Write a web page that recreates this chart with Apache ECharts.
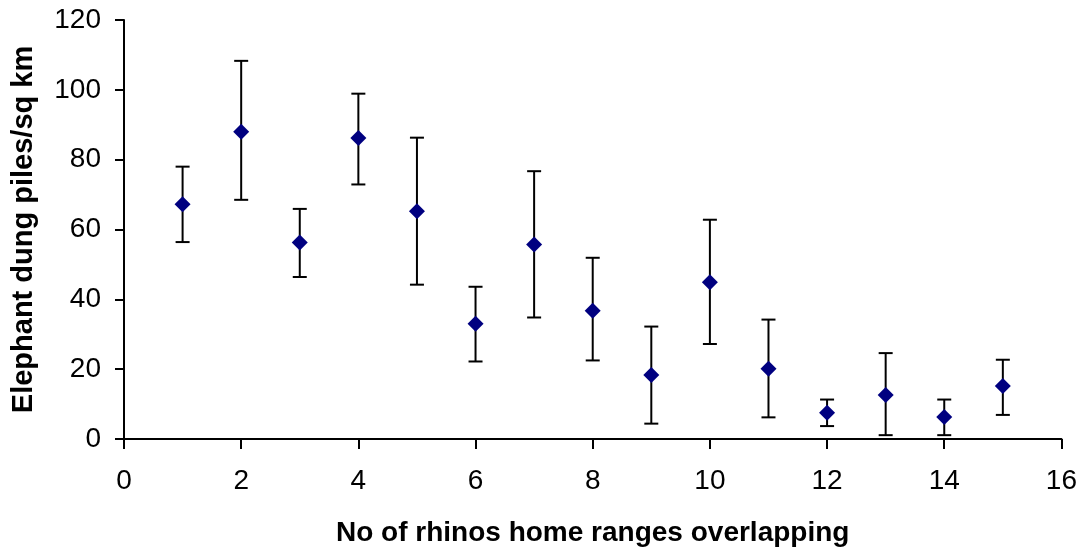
<!DOCTYPE html>
<html><head><meta charset="utf-8">
<script src="https://cdn.jsdelivr.net/npm/echarts@6/dist/echarts.min.js"></script>
<style>html,body{margin:0;padding:0;background:#fff}#c{width:1080px;height:552px}</style>
</head><body><div id="c"></div>
<script>
const xs = [1,2,3,4,5,6,7,8,9,10,11,12,13,14,15];
const means = [67.2,88.0,56.3,86.2,65.2,33.0,55.7,36.7,18.3,44.9,20.1,7.5,12.6,6.3,15.2];
const upper = [78.0,108.3,65.9,98.9,86.3,43.6,76.7,51.9,32.2,62.8,34.2,11.3,24.6,11.3,22.7];
const lower = [56.4,68.5,46.4,72.9,44.2,22.2,34.8,22.5,4.4,27.2,6.2,3.7,1.1,1.1,6.9];
const xTitle = 'No of rhinos home ranges overlapping';
const yTitle = 'Elephant dung piles/sq km';

const errData = xs.map((x,i)=>[x, lower[i], upper[i]]);
const ptData = xs.map((x,i)=>[x, means[i]]);
const font = '"Liberation Sans", Arial, sans-serif';
const chart = echarts.init(document.getElementById('c'));
chart.setOption({
  animation:false,
  backgroundColor:'#fff',
  grid:{left:124,right:18,top:20,bottom:111},
  xAxis:{type:'value',min:0,max:16,interval:2,
    name:xTitle,nameLocation:'middle',nameGap:80,
    nameTextStyle:{fontFamily:font,fontSize:28,fontWeight:'bold',color:'#000'},
    axisLine:{lineStyle:{color:'#000',width:2}},
    axisTick:{inside:false,length:10,lineStyle:{color:'#000',width:2}},
    axisLabel:{fontFamily:font,fontSize:28,color:'#000',margin:28},
    splitLine:{show:false}},
  yAxis:{type:'value',min:0,max:120,interval:20,
    name:yTitle,nameLocation:'middle',nameGap:86,
    nameTextStyle:{fontFamily:font,fontSize:29,fontWeight:'bold',color:'#000'},
    axisLine:{show:true,lineStyle:{color:'#000',width:2}},
    axisTick:{show:true,length:9,lineStyle:{color:'#000',width:2}},
    axisLabel:{fontFamily:font,fontSize:28,color:'#000',margin:23},
    splitLine:{show:false}},
  series:[
    {type:'custom',data:errData,z:2,
     renderItem:function(params,api){
       const x=api.value(0);
       const lo=api.coord([x,api.value(1)]);
       const hi=api.coord([x,api.value(2)]);
       const hw=7;
       const st={stroke:'#000',lineWidth:2};
       return {type:'group',children:[
         {type:'line',shape:{x1:lo[0],y1:lo[1],x2:hi[0],y2:hi[1]},style:st},
         {type:'line',shape:{x1:lo[0]-hw,y1:lo[1],x2:lo[0]+hw,y2:lo[1]},style:st},
         {type:'line',shape:{x1:hi[0]-hw,y1:hi[1],x2:hi[0]+hw,y2:hi[1]},style:st}
       ]};
     }},
    {type:'scatter',data:ptData,z:3,symbol:'diamond',symbolSize:[16,16],
     itemStyle:{color:'#000080',opacity:1}}
  ]
});
</script></body></html>
